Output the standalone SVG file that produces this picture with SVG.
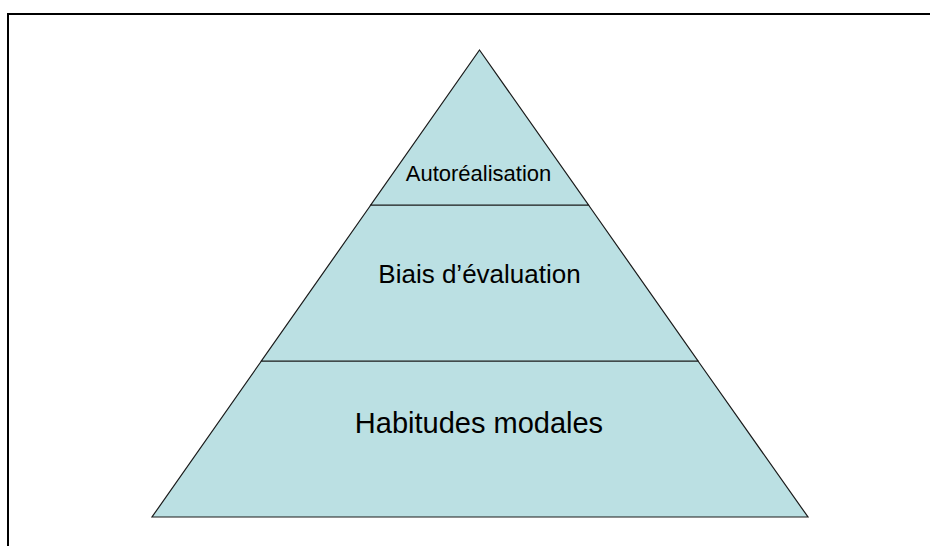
<svg xmlns="http://www.w3.org/2000/svg" width="930" height="546" viewBox="0 0 930 546">
<style>
.tier{fill:#BBE0E3;stroke:#1a1a1a;stroke-width:1.2;stroke-linejoin:miter}
.lbl{font-family:"Liberation Sans",Arial,sans-serif;fill:#000;text-anchor:middle}
</style>
<rect x="0" y="0" width="930" height="546" fill="#ffffff"/>
<rect id="frame" x="8" y="14" width="940" height="560" fill="none" stroke="#000" stroke-width="2"/>
<g id="tier-bottom">
<polygon class="tier" points="261.4,361 698,361 808,517 152,517"/>
<text class="lbl" x="479" y="433" font-size="29">Habitudes modales</text>
</g>
<g id="tier-middle">
<polygon class="tier" points="370.8,205 588.5,205 698,361 261.4,361"/>
<text class="lbl" x="479.5" y="283" font-size="26">Biais d’évaluation</text>
</g>
<g id="tier-top">
<polygon class="tier" points="479.5,50 588.5,205 370.8,205"/>
<text class="lbl" x="478.5" y="181" font-size="22">Autoréalisation</text>
</g>
<g id="connectors"></g>
</svg>
